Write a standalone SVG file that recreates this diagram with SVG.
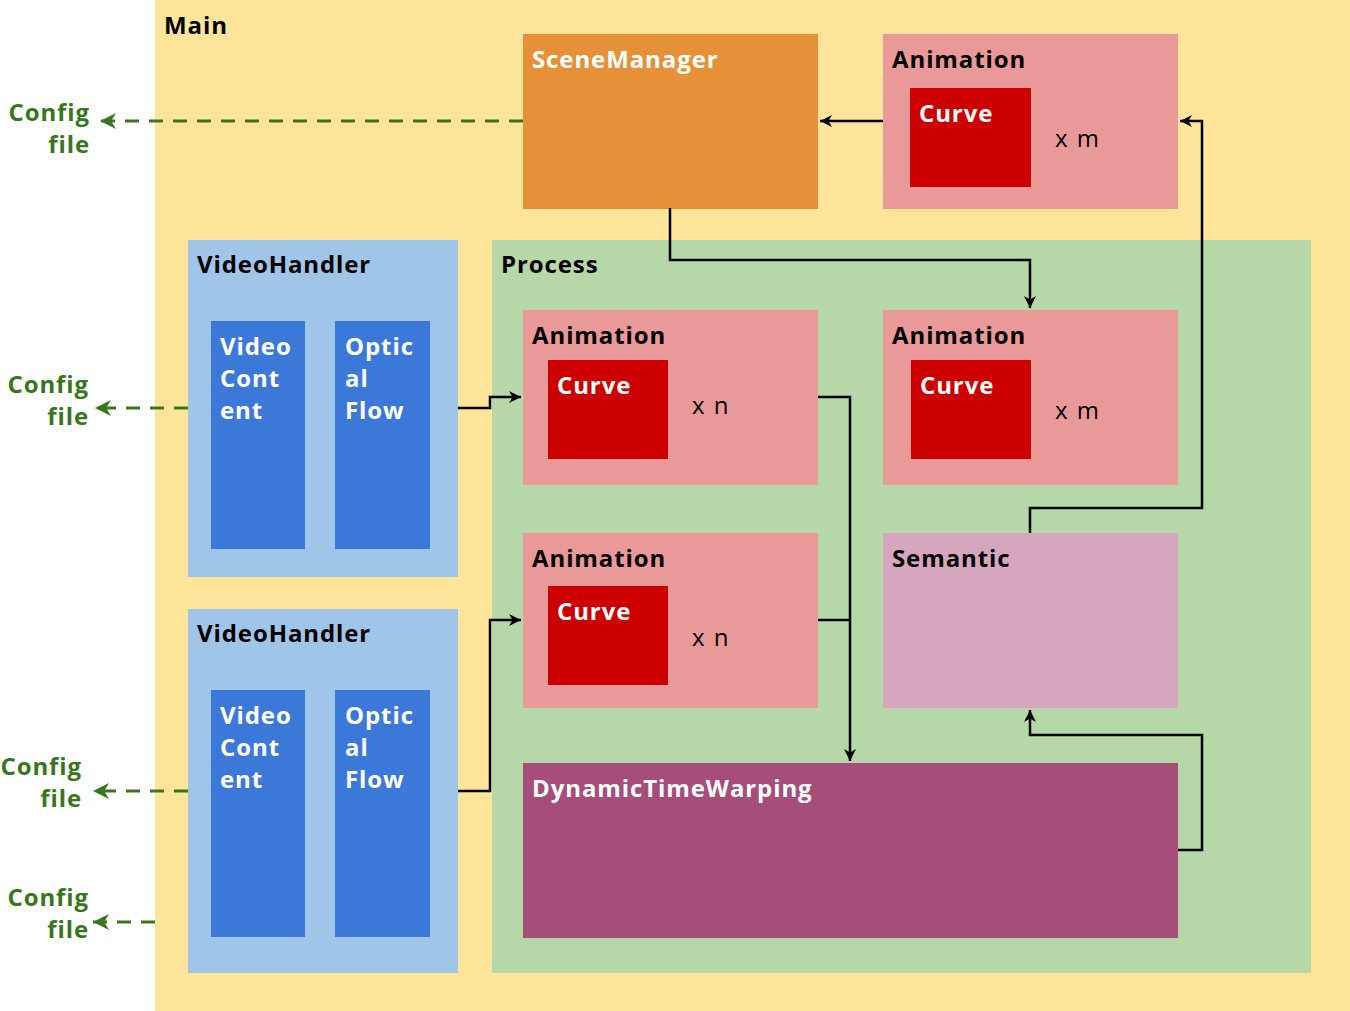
<svg xmlns="http://www.w3.org/2000/svg" width="1350" height="1011" viewBox="0 0 1350 1011">
<style>
text{font-family:"Open Sans",Lato,"Liberation Sans",sans-serif;font-weight:bold;font-size:24px;letter-spacing:0.9px}
.w{fill:#ffffff}
.k{fill:#000000}
.g{fill:#38761d;text-anchor:end}
.n{font-weight:normal;font-size:24px;letter-spacing:1.5px}
.anim{fill:#ea9999}
.curve{fill:#cc0000}
.vh{fill:#9fc5e8}
.blue{fill:#3c78d8}
.c{fill:none;stroke:#000;stroke-width:2.5}
.d{fill:none;stroke:#38761d;stroke-width:3;stroke-dasharray:14 10}
</style>
<defs>
<marker id="ab" markerWidth="12" markerHeight="12" refX="10" refY="5" orient="auto" markerUnits="userSpaceOnUse" viewBox="0 0 10 10">
<path d="M0,0 L10,5 L0,10 L3,5 z" fill="#000"/>
</marker>
<marker id="ag" markerWidth="16" markerHeight="16" refX="10" refY="5" orient="auto" markerUnits="userSpaceOnUse" viewBox="0 0 10 10">
<path d="M0,0 L10,5 L0,10 L3,5 z" fill="#38761d"/>
</marker>
</defs>
<rect width="1350" height="1011" fill="#ffffff"/>
<g id="main">
<rect x="155" y="0" width="1195" height="1011" fill="#ffe599"/>
<text x="164" y="34" class="k">Main</text>
</g>
<g id="process">
<rect x="492" y="240" width="819" height="733" fill="#b6d7a8"/>
<text x="501" y="273" class="k">Process</text>
</g>
<g id="scenemanager">
<rect x="523" y="34" width="295" height="175" fill="#e69138"/>
<text x="532" y="68" class="w">SceneManager</text>
</g>
<g id="animation-top">
<rect x="883" y="34" width="295" height="175" class="anim"/>
<text x="892" y="68" class="k">Animation</text>
<rect x="910" y="88" width="121" height="99" class="curve"/>
<text x="919" y="122" class="w">Curve</text>
<text x="1055" y="147" class="k n">x m</text>
</g>
<g id="videohandler-1">
<rect x="188" y="240" width="270" height="337" class="vh"/>
<text x="197" y="273" class="k">VideoHandler</text>
<rect x="211" y="321" width="94" height="228" class="blue"/>
<text x="220" y="355" class="w">Video</text>
<text x="220" y="387" class="w">Cont</text>
<text x="220" y="419" class="w">ent</text>
<rect x="335" y="321" width="95" height="228" class="blue"/>
<text x="345" y="355" class="w">Optic</text>
<text x="345" y="387" class="w">al</text>
<text x="345" y="419" class="w">Flow</text>
</g>
<g id="videohandler-2">
<rect x="188" y="609" width="270" height="364" class="vh"/>
<text x="197" y="642" class="k">VideoHandler</text>
<rect x="211" y="690" width="94" height="247" class="blue"/>
<text x="220" y="724" class="w">Video</text>
<text x="220" y="756" class="w">Cont</text>
<text x="220" y="788" class="w">ent</text>
<rect x="335" y="690" width="95" height="247" class="blue"/>
<text x="345" y="724" class="w">Optic</text>
<text x="345" y="756" class="w">al</text>
<text x="345" y="788" class="w">Flow</text>
</g>
<g id="animation-1">
<rect x="523" y="310" width="295" height="175" class="anim"/>
<text x="532" y="344" class="k">Animation</text>
<rect x="548" y="360" width="120" height="99" class="curve"/>
<text x="557" y="394" class="w">Curve</text>
<text x="692" y="414" class="k n">x n</text>
</g>
<g id="animation-2">
<rect x="883" y="310" width="295" height="175" class="anim"/>
<text x="892" y="344" class="k">Animation</text>
<rect x="911" y="360" width="120" height="99" class="curve"/>
<text x="920" y="394" class="w">Curve</text>
<text x="1055" y="419" class="k n">x m</text>
</g>
<g id="animation-3">
<rect x="523" y="533" width="295" height="175" class="anim"/>
<text x="532" y="567" class="k">Animation</text>
<rect x="548" y="586" width="120" height="99" class="curve"/>
<text x="557" y="620" class="w">Curve</text>
<text x="692" y="646" class="k n">x n</text>
</g>
<g id="semantic">
<rect x="883" y="533" width="295" height="175" fill="#d5a6bd"/>
<text x="892" y="567" class="k">Semantic</text>
</g>
<g id="dtw">
<rect x="523" y="763" width="655" height="175" fill="#a64d79"/>
<text x="532" y="797" class="w">DynamicTimeWarping</text>
</g>
<g id="config-labels">
<text x="90" y="121" class="g">Config</text>
<text x="90" y="153" class="g">file</text>
<text x="89" y="393" class="g">Config</text>
<text x="89" y="425" class="g">file</text>
<text x="82" y="775" class="g">Config</text>
<text x="82" y="807" class="g">file</text>
<text x="89" y="906" class="g">Config</text>
<text x="89" y="938" class="g">file</text>
</g>
<g id="connectors">
<path class="d" d="M523,121 H100" marker-end="url(#ag)"/>
<path class="d" d="M188,408 H95" marker-end="url(#ag)"/>
<path class="d" d="M188,791 H93" marker-end="url(#ag)"/>
<path class="d" d="M155,922 H93" marker-end="url(#ag)"/>
<path class="c" d="M883,121 H820" marker-end="url(#ab)"/>
<path class="c" d="M1030,533 V508 H1202 V121 H1180" marker-end="url(#ab)"/>
<path class="c" d="M670,208 V260 H1030 V308" marker-end="url(#ab)"/>
<path class="c" d="M458,408 H490 V397 H521" marker-end="url(#ab)"/>
<path class="c" d="M458,791 H490 V620 H521" marker-end="url(#ab)"/>
<path class="c" d="M818,397 H850 V761" marker-end="url(#ab)"/>
<path class="c" d="M818,620 H850"/>
<path class="c" d="M1178,850 H1202 V735 H1030 V710" marker-end="url(#ab)"/>
</g>
</svg>
